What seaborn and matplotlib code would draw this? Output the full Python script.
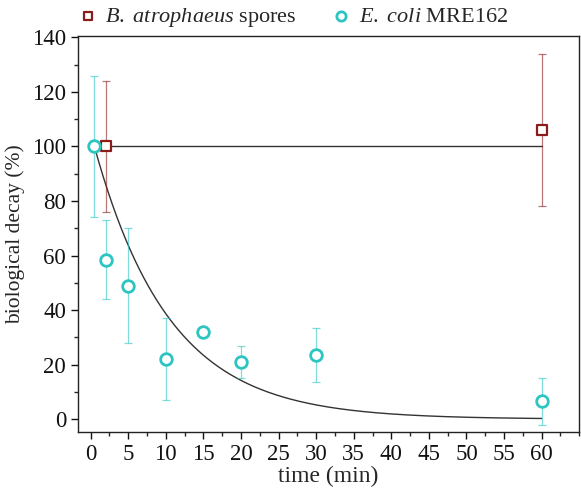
import numpy as np
import pandas as pd
import matplotlib.pyplot as plt
import seaborn as sns
from matplotlib.ticker import MultipleLocator, FixedLocator

# data
spore_t = [2, 60]
spore_val = [100, 106]
spore_err = [24, 28]

ecoli_t = [0.5, 2, 5, 10, 15, 20, 30, 60]
ecoli_val = [100, 58.5, 49, 22, 32, 21, 23.5, 6.5]
ecoli_err = [26, 14.5, 21, 15, 0, 5.8, 10, 8.5]

x_ticks = list(range(0, 61, 5))

# fitted first order decay for E. coli and constant line for spores
fit_t = np.linspace(0.5, 60, 300)
fit_decay = 100 * np.exp(-0.1 * (fit_t - 0.5))

red = "#8b1c1c"
cyan = "#2cc5c2"

sns.set_style("ticks")
plt.rcParams["font.family"] = ["Liberation Serif", "DejaVu Serif"]
plt.rcParams["mathtext.fontset"] = "custom"
plt.rcParams["mathtext.rm"] = "Liberation Serif"
plt.rcParams["mathtext.it"] = "Liberation Serif:italic"

fig = plt.figure(figsize=(5.81, 5.0), dpi=100)
ax = fig.add_axes([0.134, 0.136, 0.863, 0.792])

ax.plot([0.5, 60], [100, 100], color="#333333", lw=1.0, zorder=1)
ax.plot(fit_t, fit_decay, color="#333333", lw=1.0, zorder=1)

ax.errorbar(spore_t, spore_val, yerr=spore_err, fmt="none", ecolor=red,
            alpha=0.6, elinewidth=0.9, capsize=3, capthick=0.9, zorder=2)
ax.errorbar(ecoli_t, ecoli_val, yerr=ecoli_err, fmt="none", ecolor=cyan,
            alpha=0.6, elinewidth=0.9, capsize=3, capthick=0.9, zorder=2)

df_s = pd.DataFrame({"t": spore_t, "v": spore_val})
df_e = pd.DataFrame({"t": ecoli_t, "v": ecoli_val})
sns.scatterplot(data=df_s, x="t", y="v", ax=ax, marker="s", s=50,
                facecolor="white", edgecolor=red, linewidth=1.6, zorder=3,
                label="$\\mathit{B.\\ atrophaeus}$ spores")
sns.scatterplot(data=df_e, x="t", y="v", ax=ax, marker="o", s=70,
                facecolor="white", edgecolor=cyan, linewidth=2.0, zorder=3,
                label="$\\mathit{E.\\ coli}$ MRE162")

ax.set_xlim(-1.7, 65)
ax.set_ylim(-4.7, 140.5)
ax.xaxis.set_major_locator(FixedLocator(x_ticks))
ax.xaxis.set_minor_locator(MultipleLocator(2.5))
ax.yaxis.set_major_locator(MultipleLocator(20))
ax.yaxis.set_minor_locator(MultipleLocator(10))
ax.tick_params(which="major", direction="out", length=5, width=1, labelsize=16.5,
               colors="#111111")
ax.tick_params(which="minor", direction="out", length=3, width=1)
for sp in ax.spines.values():
    sp.set_linewidth(1.0)
    sp.set_color("#222222")

ax.set_xlabel("time (min)", fontsize=17, labelpad=1)
ax.set_ylabel("biological decay (%)", fontsize=15.5, labelpad=5)

ax.legend(loc="lower center", bbox_to_anchor=(0.43, 0.995), ncol=2, frameon=False,
          fontsize=16, handlelength=0.8, handletextpad=0.4, columnspacing=1.6,
          borderaxespad=0, markerscale=0.8)

fig.savefig("out.png", dpi=100)
